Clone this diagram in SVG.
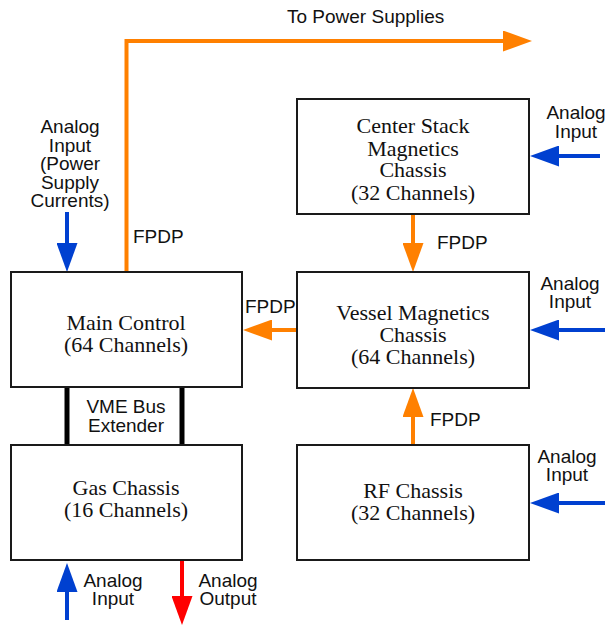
<svg xmlns="http://www.w3.org/2000/svg" width="609" height="626" viewBox="0 0 609 626">
<style>
.box{fill:#fff;stroke:#1a1a1a;stroke-width:2}
.serif{font-family:"Liberation Serif","Times New Roman",serif;font-size:22px;fill:#111;text-anchor:middle}
.sans{font-family:"Liberation Sans",Arial,sans-serif;font-size:19px;fill:#111}
.mid{text-anchor:middle}
.or{stroke:#ff8000;stroke-width:4;fill:none}
.bl{stroke:#0040d0;stroke-width:4;fill:none}
.rd{stroke:#ff0000;stroke-width:4;fill:none}
.bus{stroke:#000;stroke-width:5}
</style>
<defs>
<marker id="hOr" markerUnits="userSpaceOnUse" markerWidth="29" markerHeight="21" refX="1" refY="10.5" orient="auto" viewBox="0 0 29 21"><path d="M0,0 L29,10.5 L0,21 z" fill="#ff8000"/></marker>
<marker id="hBl" markerUnits="userSpaceOnUse" markerWidth="29" markerHeight="21" refX="1" refY="10.5" orient="auto" viewBox="0 0 29 21"><path d="M0,0 L29,10.5 L0,21 z" fill="#0040d0"/></marker>
<marker id="hRd" markerUnits="userSpaceOnUse" markerWidth="29" markerHeight="21" refX="1" refY="10.5" orient="auto" viewBox="0 0 29 21"><path d="M0,0 L29,10.5 L0,21 z" fill="#ff0000"/></marker>
</defs>

<g id="connectors">
<path class="or" d="M126.5,272 V41 H504" marker-end="url(#hOr)"/>
<path class="or" d="M413,214 V244" marker-end="url(#hOr)"/>
<path class="or" d="M300,330 H271" marker-end="url(#hOr)"/>
<path class="or" d="M413,445 V416" marker-end="url(#hOr)"/>
<path class="bl" d="M67,212 V244" marker-end="url(#hBl)"/>
<path class="bl" d="M600,156 H558" marker-end="url(#hBl)"/>
<path class="bl" d="M605,330 H558" marker-end="url(#hBl)"/>
<path class="bl" d="M605,503 H558" marker-end="url(#hBl)"/>
<path class="bl" d="M67,620 V591" marker-end="url(#hBl)"/>
<path class="rd" d="M182,560 V597" marker-end="url(#hRd)"/>
<line class="bus" x1="67" y1="387" x2="67" y2="445"/>
<line class="bus" x1="182" y1="387" x2="182" y2="445"/>
</g>

<g id="labels" class="sans">
<text x="287" y="23">To Power Supplies</text>
<text class="mid" x="70"><tspan x="70" y="133">Analog</tspan><tspan x="70" y="151.5">Input</tspan><tspan x="70" y="170">(Power</tspan><tspan x="70" y="188.5">Supply</tspan><tspan x="70" y="207">Currents)</tspan></text>
<text x="133" y="243">FPDP</text>
<text class="mid"><tspan x="576" y="119">Analog</tspan><tspan x="576" y="138">Input</tspan></text>
<text x="437" y="249">FPDP</text>
<text x="245" y="313">FPDP</text>
<text class="mid"><tspan x="570" y="290">Analog</tspan><tspan x="570" y="308">Input</tspan></text>
<text x="430" y="426">FPDP</text>
<text class="mid"><tspan x="567" y="463">Analog</tspan><tspan x="567" y="481">Input</tspan></text>
<text class="mid"><tspan x="126" y="413">VME Bus</tspan><tspan x="126" y="432">Extender</tspan></text>
<text class="mid"><tspan x="113" y="587">Analog</tspan><tspan x="113" y="605">Input</tspan></text>
<text class="mid"><tspan x="228" y="587">Analog</tspan><tspan x="228" y="605">Output</tspan></text>
</g>

<g id="main-control">
<rect class="box" x="11" y="272" width="231" height="115"/>
<text class="serif"><tspan x="126" y="330">Main Control</tspan><tspan x="126" y="352">(64 Channels)</tspan></text>
</g>
<g id="gas-chassis">
<rect class="box" x="11" y="445" width="231" height="115"/>
<text class="serif"><tspan x="126" y="495">Gas Chassis</tspan><tspan x="126" y="517">(16 Channels)</tspan></text>
</g>
<g id="center-stack">
<rect class="box" x="297" y="99" width="232" height="115"/>
<text class="serif"><tspan x="413" y="133">Center Stack</tspan><tspan x="413" y="156">Magnetics</tspan><tspan x="413" y="177">Chassis</tspan><tspan x="413" y="200">(32 Channels)</tspan></text>
</g>
<g id="vessel-magnetics">
<rect class="box" x="297" y="272" width="232" height="116"/>
<text class="serif"><tspan x="413" y="320">Vessel Magnetics</tspan><tspan x="413" y="342">Chassis</tspan><tspan x="413" y="364">(64 Channels)</tspan></text>
</g>
<g id="rf-chassis">
<rect class="box" x="297" y="445" width="232" height="115"/>
<text class="serif"><tspan x="413" y="498">RF Chassis</tspan><tspan x="413" y="520">(32 Channels)</tspan></text>
</g>
</svg>
